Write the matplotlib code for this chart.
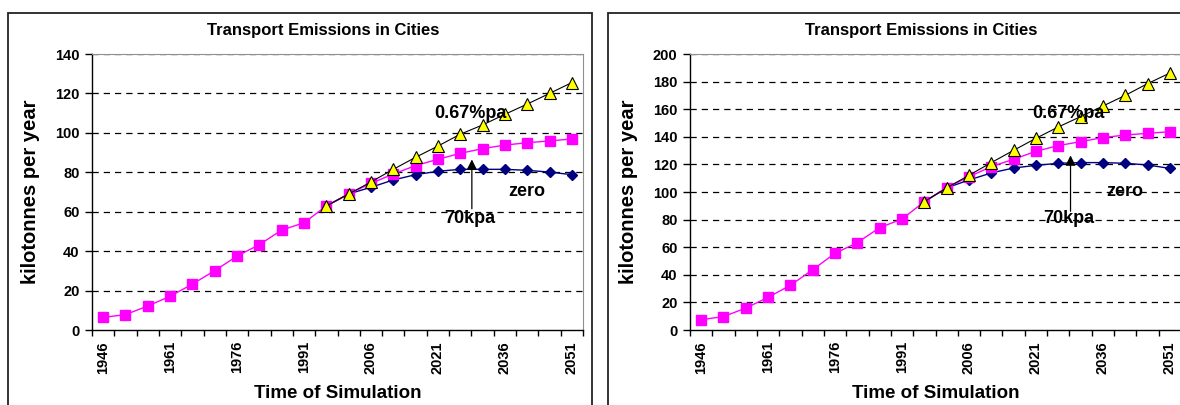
import numpy as np
import matplotlib
matplotlib.use("Agg")
import matplotlib.pyplot as plt
from matplotlib.patches import Rectangle

plt.rcParams['font.family'] = ['Liberation Sans', 'DejaVu Sans']
plt.rcParams['font.weight'] = 'bold'

years = ["1946", "1951", "1956", "1961", "1966", "1971", "1976", "1981",
         "1986", "1991", "1996", "2001", "2006", "2011", "2016", "2021",
         "2026", "2031", "2036", "2041", "2046", "2051"]
shown_years = ["1946", "1961", "1976", "1991", "2006", "2021", "2036", "2051"]

# left chart
kpa70_left = [6.4, 7.8, 12.2, 17.1, 23.3, 30.1, 37.5, 43.3, 50.7, 54.4, 62.9,
              69.0, 74.4, 79.1, 83.4, 86.6, 89.6, 92.0, 93.8, 95.0, 95.9, 96.9]
pa067_left = [None] * 10 + [62.9, 69.0, 75.1, 81.5, 87.6, 93.3, 99.3, 104.0,
                            109.4, 114.6, 120.0, 125.5]
zero_left = [None] * 10 + [62.9, 69.0, 72.4, 76.1, 78.8, 80.5, 81.5, 81.5,
                           81.5, 81.0, 80.1, 78.8]

# right chart
kpa70_right = [7.5, 9.7, 15.9, 23.7, 32.4, 43.7, 55.6, 63.3, 74.2, 80.4, 93.0,
               103.1, 111.1, 118.4, 123.7, 129.5, 133.6, 136.5, 139.4, 141.3,
               142.5, 143.7]
pa067_right = [None] * 10 + [93.0, 103.0, 112.1, 121.3, 130.2, 138.9, 147.1,
                             154.6, 162.3, 170.0, 178.5, 186.2]
zero_right = [None] * 10 + [93.0, 103.0, 108.7, 113.8, 117.4, 119.3, 120.8,
                            121.3, 121.3, 120.8, 119.6, 117.1]

W, H = 1180, 405


def to_arr(v):
    return np.array([np.nan if a is None else a for a in v], dtype=float)


def draw_chart(fig, px_left, frame_left, ymax, zero, kpa, pa, labels):
    # frame around the whole chart
    fig.add_artist(Rectangle((frame_left / W, -0.2), 584 / W, 1.2 - 13 / H,
                             transform=fig.transFigure, fill=False,
                             edgecolor='#222222', lw=1.3))
    ax = fig.add_axes([px_left / W, 75 / H, 491 / W, 276 / H])
    x = np.arange(len(years))

    ax.plot(x, to_arr(zero), color='#000080', lw=1, marker='D', ms=5.5,
            mfc='#000080', mec='#000080', zorder=3)
    ax.plot(x, to_arr(kpa), color='#ff00ff', lw=1, marker='s', ms=6.5,
            mfc='#ff00ff', mec='#ff00ff', zorder=4)
    ax.plot(x, to_arr(pa), color='black', lw=0.8, marker='^', ms=8,
            mfc='#ffff00', mec='black', mew=0.8, zorder=5)

    ax.set_xlim(-0.5, len(years) - 0.5)
    ax.set_ylim(0, ymax)
    step = 20
    ax.set_yticks(np.arange(0, ymax + 1, step))
    ax.tick_params(axis='y', direction='out', length=5, width=1,
                   labelsize=10.5, pad=4)
    for t in ax.get_yticklabels():
        t.set_fontweight('bold')

    # tick marks between categories, labels on every third
    ax.set_xticks(np.arange(-0.5, len(years), 1.0))
    ax.set_xticklabels([])
    ax.tick_params(axis='x', which='major', direction='out', length=4, width=1)
    lab_pos = [years.index(y) for y in shown_years]
    ax.set_xticks(lab_pos, minor=True)
    ax.set_xticklabels(shown_years, minor=True, rotation=90, fontsize=10.5,
                       fontweight='bold')
    ax.tick_params(axis='x', which='minor', length=0, pad=8)

    for yv in np.arange(step, ymax + 1, step):
        ax.axhline(yv, color='black', lw=0.9, ls=(0, (5, 4)), zorder=1)
    ax.spines['top'].set_color('#909090')
    ax.spines['right'].set_color('#909090')
    ax.spines['left'].set_linewidth(1)
    ax.spines['bottom'].set_linewidth(1)

    ax.set_xlabel('Time of Simulation', fontsize=13.5, fontweight='bold',
                  labelpad=8)
    ax.set_ylabel('kilotonnes per year', fontsize=14.5, fontweight='bold',
                  labelpad=11)
    ax.set_title('Transport Emissions in Cities', fontsize=12,
                 fontweight='bold', pad=14, x=0.471)

    # annotations
    (pa_x, pa_y), (z_x, z_y), (k_x, k_y), (ar_x, ar_y0, ar_y1) = labels
    ax.text(pa_x, pa_y, '0.67%pa', fontsize=13, fontweight='bold',
            ha='center', va='center', zorder=6)
    ax.text(z_x, z_y, 'zero', fontsize=13, fontweight='bold',
            ha='center', va='center', zorder=6)
    ax.text(k_x, k_y, '70kpa', fontsize=13, fontweight='bold',
            ha='center', va='center', zorder=6)
    ax.annotate('', xy=(ar_x, ar_y1), xytext=(ar_x, ar_y0),
                arrowprops=dict(arrowstyle='-|>', color='black', lw=0.9,
                                mutation_scale=15, shrinkA=0, shrinkB=0),
                zorder=6)
    return ax


fig = plt.figure(figsize=(W / 100, H / 100), dpi=100)

draw_chart(fig, 92, 8, 140, zero_left, kpa70_left, pa067_left,
           [(16.45, 109.8), (18.97, 70.2), (16.45, 56.7), (16.52, 61.5, 86.5)])
draw_chart(fig, 690, 608, 200, zero_right, kpa70_right, pa067_right,
           [(16.46, 156.8), (18.96, 100.1), (16.46, 80.6), (16.55, 86.0, 126.5)])

fig.savefig('out.png', dpi=100)
